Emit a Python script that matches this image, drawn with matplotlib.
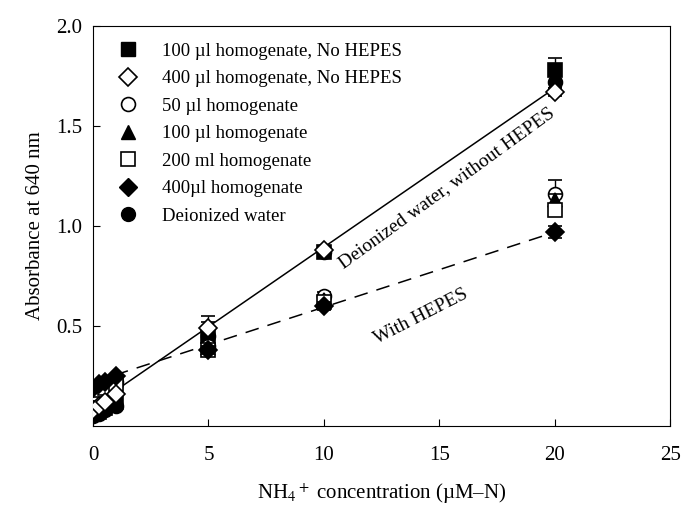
import numpy as np
import matplotlib
matplotlib.use("Agg")
from matplotlib import pyplot as plt
from matplotlib.lines import Line2D

plt.rcParams['font.family'] = ['Liberation Serif', 'DejaVu Serif']
plt.rcParams['mathtext.fontset'] = 'stix'

# NH4+ standards (uM-N)
conc = [0, 0.25, 0.5, 1, 5, 10, 20]

# absorbance at 640 nm for each treatment
sq_100_nohepes = [0.06, 0.07, 0.09, 0.12, 0.45, 0.87, 1.78]
sq_100_nohepes_err = [0.01, 0.01, 0.01, 0.01, 0.02, 0.02, 0.06]
dia_400_nohepes = [0.08, 0.10, 0.12, 0.16, 0.49, 0.88, 1.67]
dia_400_nohepes_err = [0.01, 0.01, 0.01, 0.01, 0.03, 0.02, 0.02]
circ_50 = [0.17, 0.19, 0.20, 0.22, 0.40, 0.65, 1.16]
circ_50_err = [0.01, 0.01, 0.01, 0.01, 0.02, 0.02, 0.07]
tri_100 = [0.18, 0.19, 0.21, 0.23, 0.39, 0.63, 1.13]
tri_100_err = [0.01, 0.01, 0.01, 0.01, 0.02, 0.02, 0.03]
osq_200 = [0.16, 0.18, 0.19, 0.21, 0.38, 0.62, 1.08]
osq_200_err = [0.01, 0.01, 0.01, 0.01, 0.02, 0.02, 0.03]
fdia_400 = [0.19, 0.21, 0.22, 0.25, 0.38, 0.60, 0.97]
fdia_400_err = [0.01, 0.01, 0.01, 0.01, 0.02, 0.02, 0.03]
di_water = [0.05, 0.06, 0.08, 0.10, 0.45, 0.87, 1.72]
di_water_err = [0.01, 0.01, 0.01, 0.01, 0.10, 0.02, 0.03]

# regression lines
fit_x = [0, 20]
fit_nohepes = [0.10, 1.69]
fit_hepes = [0.22, 0.97]

labels = ['100 µl homogenate, No HEPES', '400 µl homogenate, No HEPES',
          '50 µl homogenate', '100 µl homogenate', '200 ml homogenate',
          '400µl homogenate', 'Deionized water']

series = [
    (sq_100_nohepes, sq_100_nohepes_err, 's', 'black'),
    (di_water, di_water_err, 'o', 'black'),
    (circ_50, circ_50_err, 'o', 'white'),
    (tri_100, tri_100_err, '^', 'black'),
    (osq_200, osq_200_err, 's', 'white'),
    (fdia_400, fdia_400_err, 'D', 'black'),
    (dia_400_nohepes, dia_400_nohepes_err, 'D', 'white'),
]

fig = plt.figure(figsize=(6.84, 5.21), dpi=100)
ax = fig.add_axes([0.136, 0.182, 0.844, 0.768])

ax.plot(fit_x, fit_nohepes, '-', color='black', lw=1.1, zorder=1)
ax.plot(fit_x, fit_hepes, '--', color='black', lw=1.1, dashes=(9, 6), zorder=1)

for i, (vals, err, mk, fc) in enumerate(series):
    ms = 9 if mk == 'D' else 10
    ax.errorbar(conc, vals, yerr=err, fmt=mk, mfc=fc, mec='black', mew=1.2,
                ms=ms, ecolor='black', elinewidth=1, capsize=5, zorder=3 + i)

ax.text(15.3, 1.19, 'Deionized water, without HEPES', rotation=36,
        ha='center', va='center', fontsize=14)
ax.text(14.2, 0.55, 'With HEPES', rotation=27, ha='center', va='center',
        fontsize=14)

handles = [
    Line2D([], [], ls='', marker='s', mfc='black', mec='black', ms=10),
    Line2D([], [], ls='', marker='D', mfc='white', mec='black', mew=1.2, ms=9),
    Line2D([], [], ls='', marker='o', mfc='white', mec='black', mew=1.2, ms=10),
    Line2D([], [], ls='', marker='^', mfc='black', mec='black', ms=10),
    Line2D([], [], ls='', marker='s', mfc='white', mec='black', mew=1.2, ms=10),
    Line2D([], [], ls='', marker='D', mfc='black', mec='black', ms=9),
    Line2D([], [], ls='', marker='o', mfc='black', mec='black', ms=10),
]
ax.legend(handles, labels, loc='upper left', frameon=False, fontsize=13.5,
          handlelength=1.2, handletextpad=1.2, labelspacing=0.55,
          borderaxespad=0.5, bbox_to_anchor=(0.012, 1.0))

ax.set_xlim(0, 25)
ax.set_ylim(0, 2.0)
ax.set_xticks([0, 5, 10, 15, 20, 25])
ax.set_yticks([0.5, 1.0, 1.5, 2.0])
ax.set_yticklabels(['0.5', '1.0', '1.5', '2.0'])
ax.tick_params(direction='in', length=5, labelsize=15, pad=14)
ax.tick_params(axis='y', pad=8)

ax.set_xlabel(r'NH$_4$$^+$ concentration (µM–N)', fontsize=15, labelpad=12)
ax.set_ylabel('Absorbance at 640 nm', fontsize=15, labelpad=8)

plt.savefig('out.png', dpi=100)
